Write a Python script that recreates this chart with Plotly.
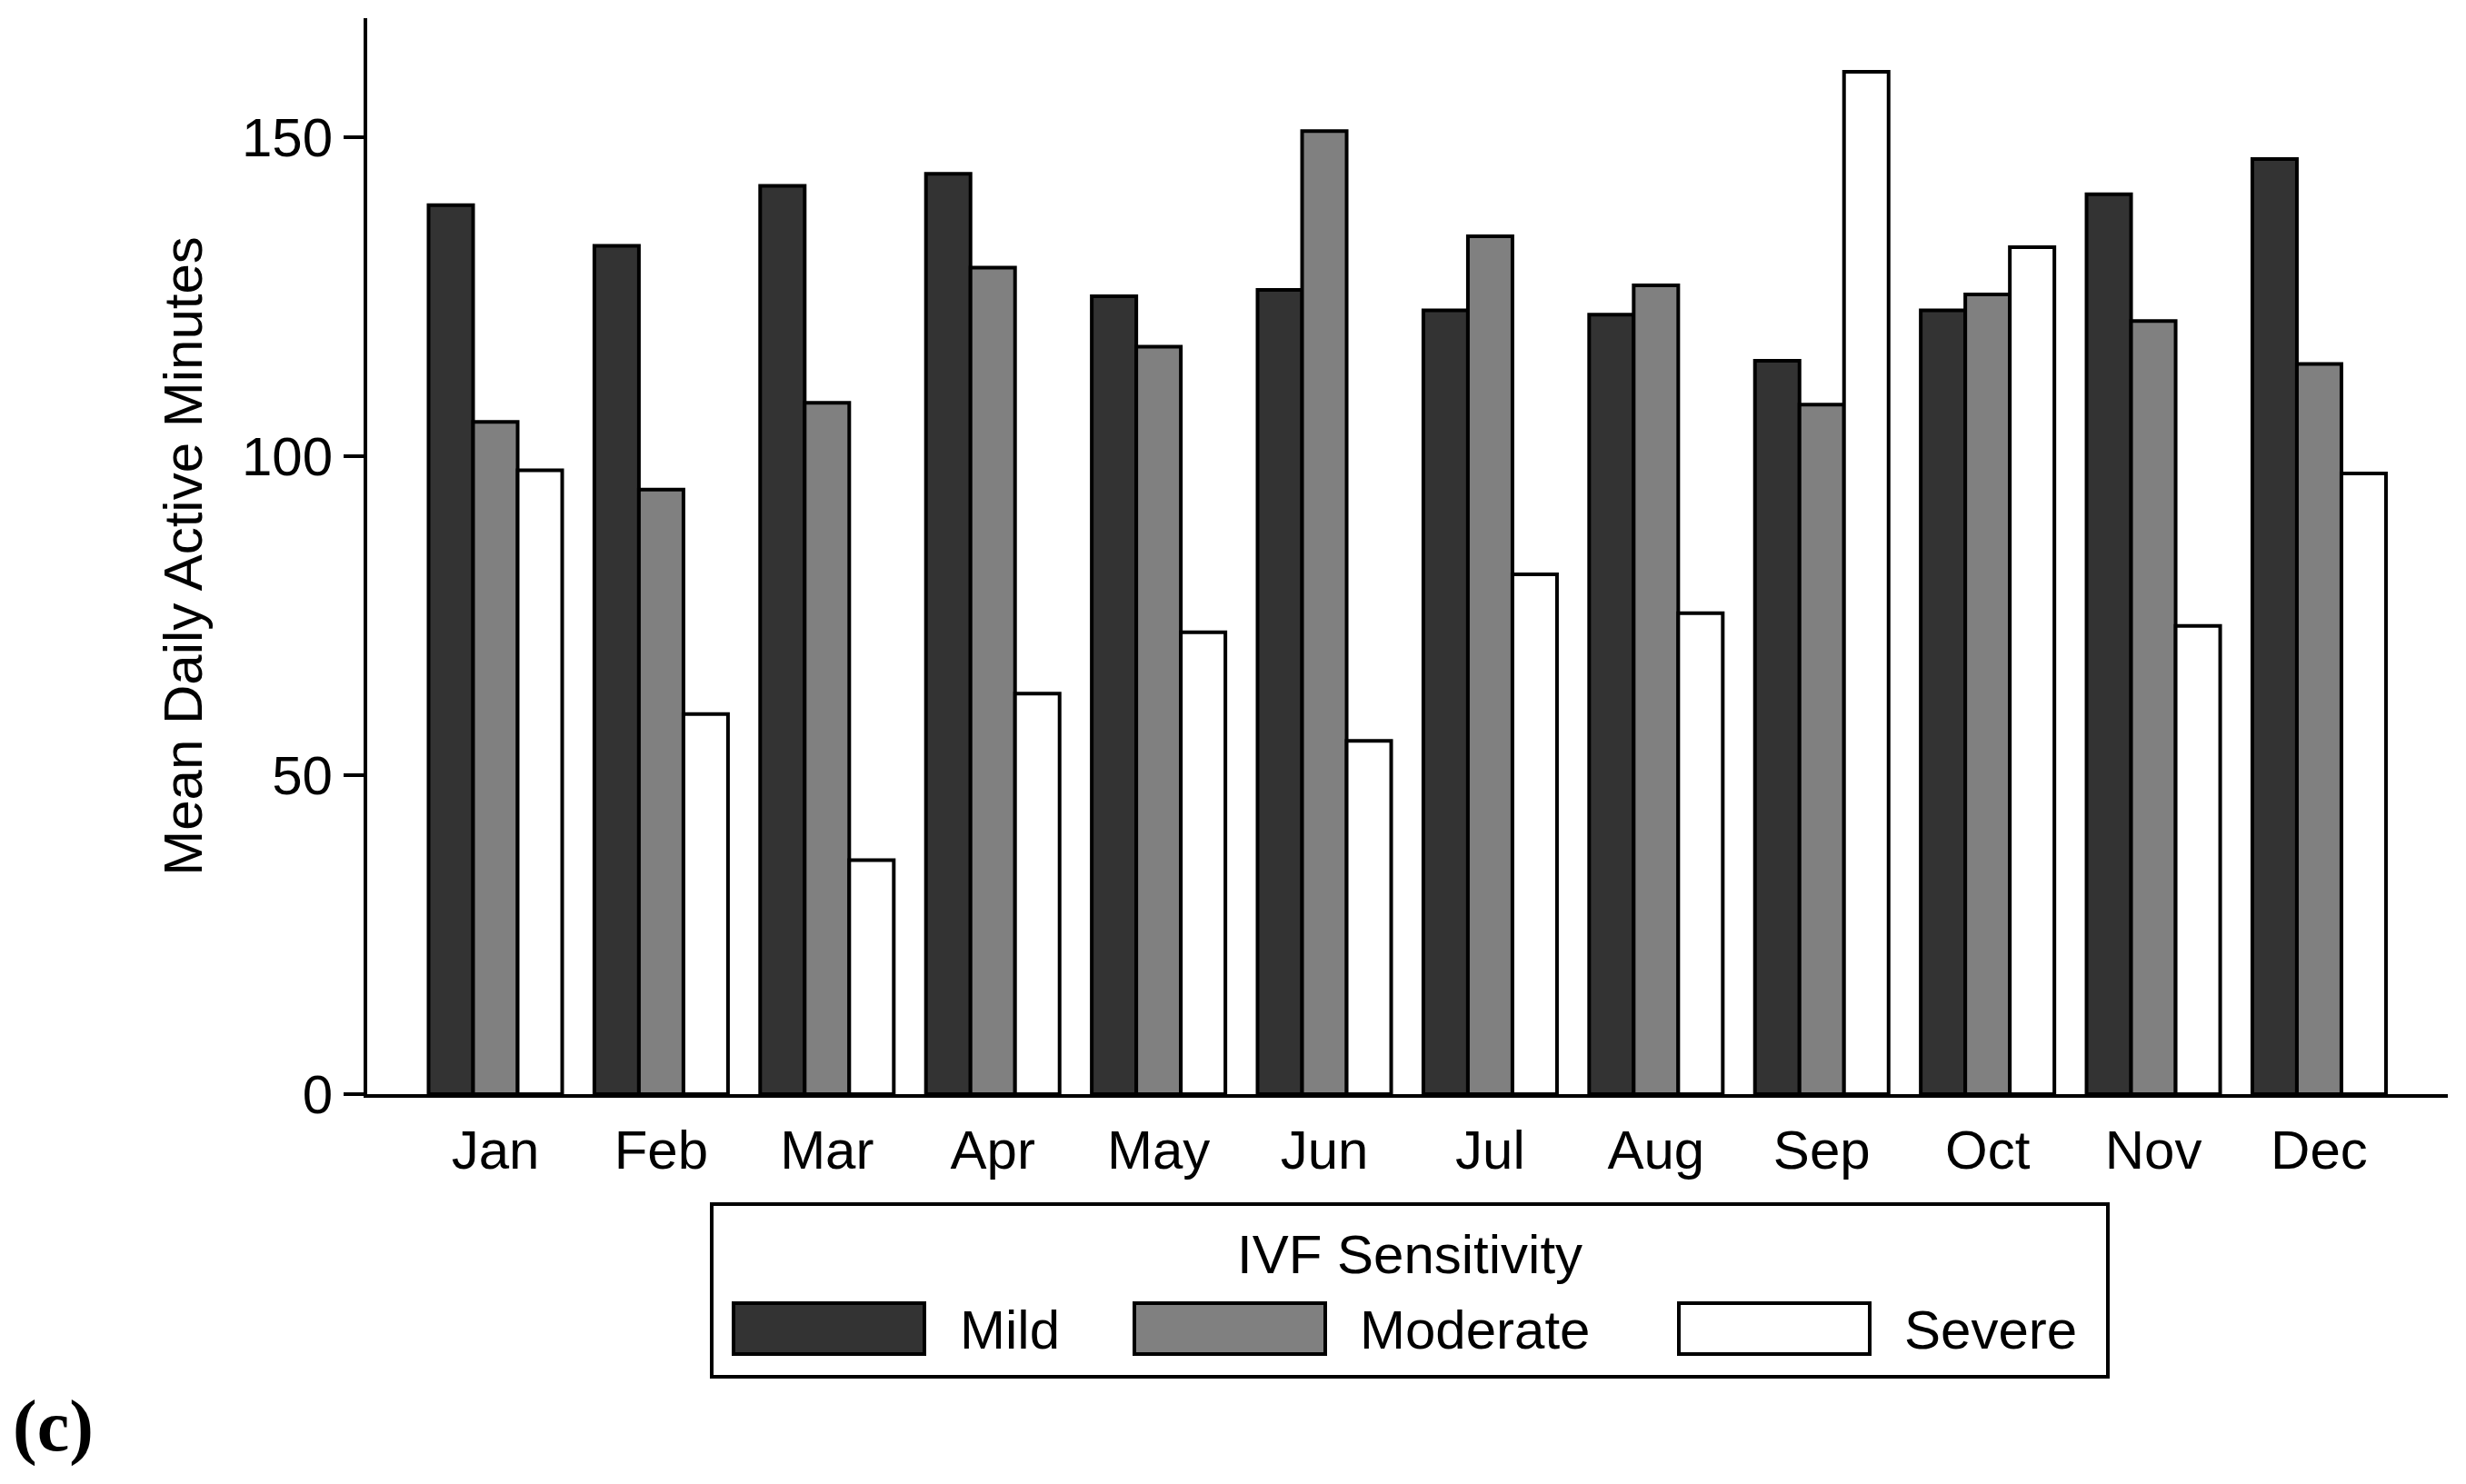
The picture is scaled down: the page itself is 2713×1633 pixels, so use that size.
import plotly.graph_objects as go

months = ["Jan", "Feb", "Mar", "Apr", "May", "Jun", "Jul", "Aug", "Sep", "Oct", "Nov", "Dec"]
mild = [139.4, 133.0, 142.4, 144.3, 125.1, 126.1, 122.9, 122.2, 115.0, 122.9, 141.1, 146.6]
moderate = [105.4, 94.8, 108.4, 129.6, 117.2, 151.0, 134.5, 126.8, 108.1, 125.4, 121.2, 114.5]
severe = [97.8, 59.6, 36.7, 62.8, 72.4, 55.4, 81.5, 75.4, 160.3, 132.8, 73.4, 97.3]
series_names = ["Mild", "Moderate", "Severe"]
series_colors = ["#333333", "#808080", "#ffffff"]
y_ticks = [0, 50, 100, 150]
legend_title = "IVF Sensitivity"

FONT = "Liberation Sans, Arial, sans-serif"

# ---- layout geometry (pixels) ----
W, H = 2713, 1633
ML, MR, MT, MB = 404, 20, 20, 429
PW, PH = W - ML - MR, H - MT - MB


def px(xpix):
    return (xpix - ML) / PW


def py(ypix):
    return (H - MB - ypix) / PH


fig = go.Figure()
for name, vals, col in zip(series_names, [mild, moderate, severe], series_colors):
    fig.add_trace(go.Bar(
        x=months, y=vals, name=name,
        marker=dict(color=col, line=dict(color="black", width=4)),
        showlegend=False,
    ))

# ---- custom legend (box, title, swatches, labels) ----
shapes = [dict(type="rect", xref="paper", yref="paper",
               x0=px(783), x1=px(2319), y0=py(1325), y1=py(1515),
               line=dict(color="black", width=4), fillcolor="white", layer="above")]
annotations = [dict(text=legend_title, xref="paper", yref="paper",
                    x=px(1551), y=py(1380), xanchor="center", yanchor="middle",
                    showarrow=False, font=dict(size=60, color="black"))]
swatch_left = [807, 1248, 1847]
label_left = [1054, 1494, 2093]
for name, col, sx, lx in zip(series_names, series_colors, swatch_left, label_left):
    shapes.append(dict(type="rect", xref="paper", yref="paper",
                       x0=px(sx), x1=px(sx + 210), y0=py(1434), y1=py(1490),
                       line=dict(color="black", width=4), fillcolor=col, layer="above"))
    annotations.append(dict(text=name, xref="paper", yref="paper",
                            x=px(lx), y=py(1463), xanchor="left", yanchor="middle",
                            showarrow=False, font=dict(size=60, color="black")))

annotations.append(dict(
    text="<b>(c)</b>", xref="paper", yref="paper",
    x=px(12), y=py(1570), xanchor="left", yanchor="middle",
    showarrow=False,
    font=dict(family="Liberation Serif, Times New Roman, serif", size=80, color="black"),
))

fig.update_layout(
    width=W, height=H,
    paper_bgcolor="white", plot_bgcolor="white",
    margin=dict(l=ML, r=MR, t=MT, b=MB),
    barmode="group", bargap=0.194, bargroupgap=0,
    font=dict(family=FONT, size=60, color="black"),
    showlegend=False,
    shapes=shapes,
    annotations=annotations,
)

fig.update_xaxes(
    type="category", range=[-0.773, 11.776],
    showline=True, linecolor="black", linewidth=4,
    ticks="", showgrid=False, zeroline=False,
    tickfont=dict(size=60), ticklabelstandoff=6,
)
fig.update_yaxes(
    range=[0, 168.7], tickvals=y_ticks,
    showline=True, linecolor="black", linewidth=4,
    ticks="outside", ticklen=22, tickwidth=4, tickcolor="black",
    showgrid=False, zeroline=False,
    title=dict(text="Mean Daily Active Minutes", font=dict(size=60), standoff=25),
    tickfont=dict(size=60),
)

fig.write_html("out.html", config={"displayModeBar": False},
               post_script="document.body.style.margin='0';")
